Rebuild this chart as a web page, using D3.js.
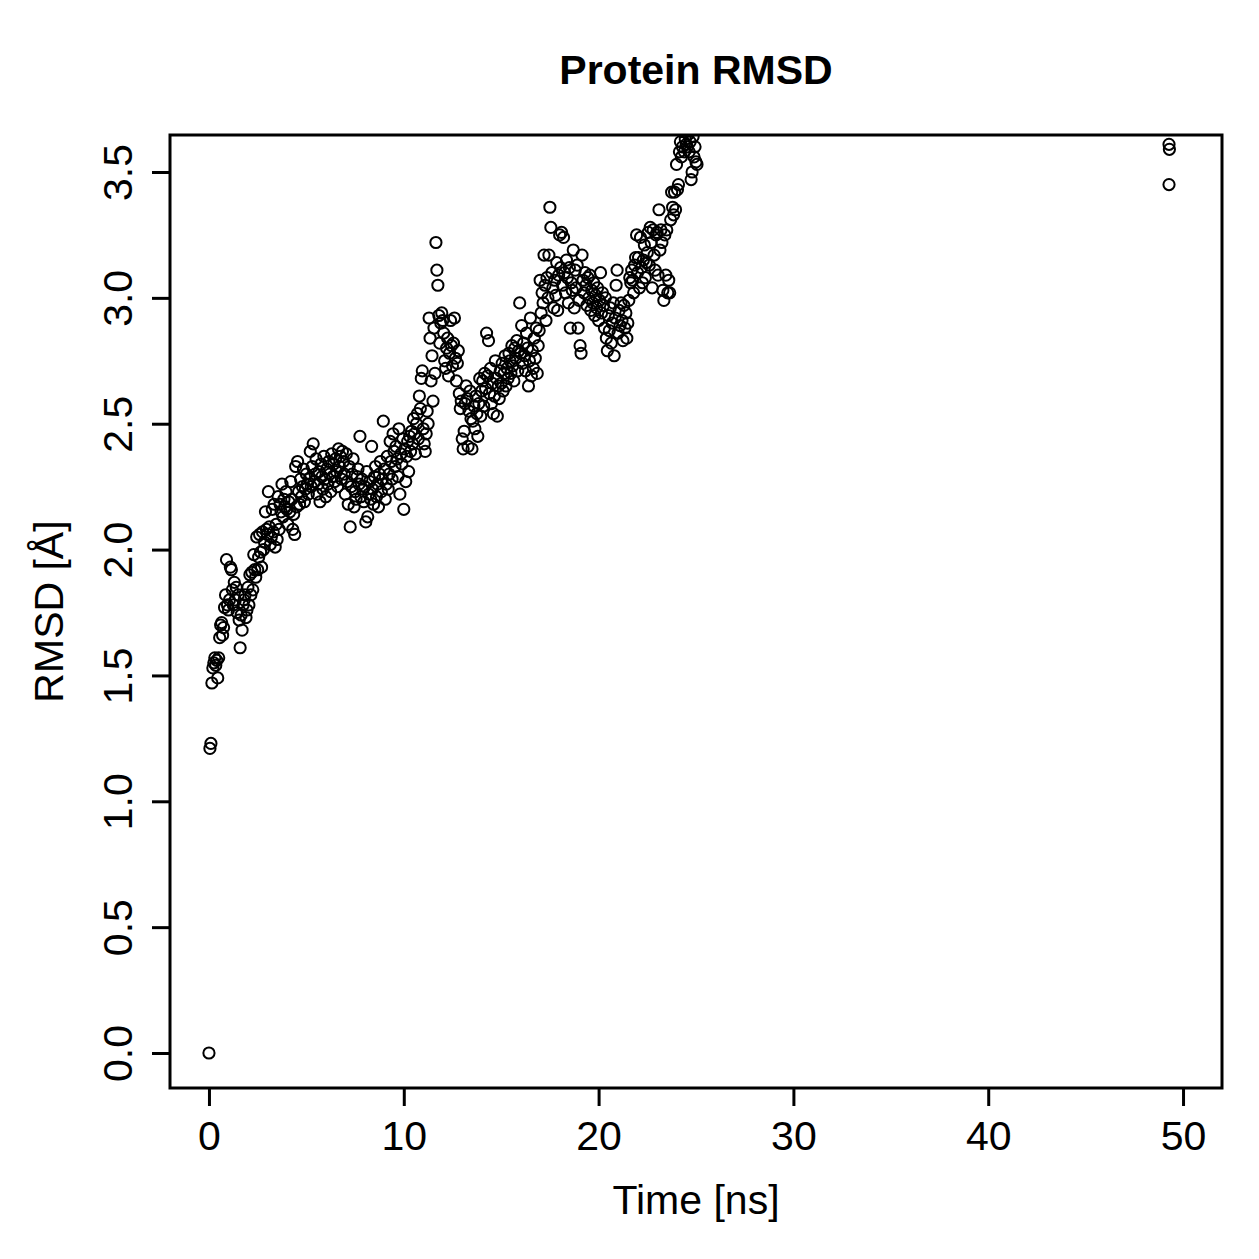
<!DOCTYPE html>
<html>
<head>
<meta charset="utf-8">
<script src="https://cdn.jsdelivr.net/npm/d3@7"></script>
<style>
  body { margin: 0; background: #fff; }
  text { font-family: "Liberation Sans", Arial, sans-serif; fill: #000; }
</style>
</head>
<body>
<script>
// RMSD trajectory, one frame every 0.05 ns starting at t = 0
var frameStart = 0
var frameStep = 0.05
var rmsd = [
  0.00, 1.21, 1.23, 1.47, 1.53, 1.55, 1.57, 1.54, 1.56, 1.49, 1.57, 1.65, 1.70, 1.71, 1.66, 1.69, 1.77, 1.82, 1.96, 1.78,
  1.76, 1.80, 1.93, 1.92, 1.84, 1.78, 1.87, 1.80, 1.85, 1.75, 1.82, 1.72, 1.61, 1.74, 1.68, 1.78, 1.80, 1.82, 1.73, 1.76,
  1.85, 1.78, 1.90, 1.82, 1.91, 1.84, 1.98, 1.92, 1.89, 2.05, 1.92, 1.97, 2.06, 1.99, 1.93, 2.07, 2.00, 2.03, 2.15, 2.08,
  2.06, 2.23, 2.09, 2.02, 2.05, 2.16, 2.07, 2.18, 2.01, 2.10, 2.04, 2.21, 2.08, 2.18, 2.15, 2.26, 2.13, 2.20, 2.17, 2.23,
  2.16, 2.10, 2.19, 2.15, 2.27, 2.20, 2.08, 2.14, 2.06, 2.33, 2.17, 2.35, 2.23, 2.18, 2.28, 2.21, 2.25, 2.32, 2.19, 2.24,
  2.30, 2.26, 2.22, 2.28, 2.39, 2.25, 2.33, 2.42, 2.27, 2.30, 2.36, 2.22, 2.26, 2.31, 2.19, 2.34, 2.29, 2.24, 2.37, 2.28,
  2.21, 2.32, 2.26, 2.35, 2.30, 2.23, 2.38, 2.29, 2.34, 2.27, 2.36, 2.31, 2.25, 2.40, 2.33, 2.37, 2.28, 2.39, 2.35, 2.30,
  2.22, 2.38, 2.27, 2.18, 2.33, 2.09, 2.25, 2.30, 2.36, 2.17, 2.23, 2.20, 2.29, 2.32, 2.26, 2.45, 2.21, 2.28, 2.24, 2.19,
  2.25, 2.11, 2.31, 2.13, 2.22, 2.27, 2.20, 2.41, 2.24, 2.18, 2.29, 2.33, 2.21, 2.26, 2.17, 2.30, 2.35, 2.23, 2.28, 2.51,
  2.32, 2.20, 2.26, 2.37, 2.24, 2.30, 2.43, 2.35, 2.28, 2.46, 2.39, 2.33, 2.41, 2.36, 2.29, 2.48, 2.22, 2.38, 2.34, 2.44,
  2.16, 2.40, 2.27, 2.37, 2.43, 2.31, 2.45, 2.39, 2.47, 2.42, 2.52, 2.46, 2.38, 2.50, 2.54, 2.44, 2.61, 2.56, 2.68, 2.71,
  2.48, 2.42, 2.39, 2.46, 2.55, 2.50, 2.92, 2.84, 2.67, 2.77, 2.59, 2.88, 2.70, 3.22, 3.11, 3.05, 2.93, 2.82, 2.90, 2.94,
  2.91, 2.86, 2.75, 2.72, 2.80, 2.84, 2.69, 2.78, 2.91, 2.81, 2.73, 2.82, 2.92, 2.76, 2.67, 2.74, 2.79, 2.62, 2.56, 2.59,
  2.44, 2.40, 2.47, 2.58, 2.65, 2.60, 2.41, 2.55, 2.63, 2.52, 2.40, 2.51, 2.57, 2.48, 2.61, 2.54, 2.45, 2.58, 2.68, 2.53,
  2.63, 2.67, 2.57, 2.70, 2.64, 2.86, 2.69, 2.83, 2.62, 2.72, 2.58, 2.66, 2.54, 2.61, 2.75, 2.68, 2.53, 2.65, 2.60, 2.71,
  2.66, 2.74, 2.63, 2.70, 2.77, 2.65, 2.72, 2.68, 2.78, 2.75, 2.70, 2.81, 2.73, 2.67, 2.80, 2.76, 2.83, 2.71, 2.79, 2.98,
  2.78, 2.89, 2.74, 2.82, 2.77, 2.71, 2.86, 2.80, 2.65, 2.75, 2.92, 2.69, 2.79, 2.72, 2.84, 2.76, 2.88, 2.70, 2.81, 2.87,
  3.07, 2.94, 3.02, 2.98, 3.17, 3.05, 2.91, 3.08, 3.00, 3.17, 3.36, 3.28, 3.10, 3.04, 2.96, 3.07, 3.01, 3.14, 2.95, 3.09,
  3.25, 3.12, 3.26, 3.05, 3.24, 3.10, 3.02, 3.15, 3.08, 2.98, 3.12, 2.88, 3.06, 3.03, 3.19, 2.96, 3.11, 3.04, 3.13, 2.88,
  2.99, 2.81, 2.78, 3.17, 3.07, 3.02, 3.10, 3.05, 2.97, 3.08, 3.00, 3.09, 2.95, 3.03, 2.98, 3.06, 2.93, 3.01, 2.96, 3.04,
  2.91, 2.99, 3.10, 2.94, 3.02, 2.97, 2.88, 3.00, 2.84, 2.79, 2.93, 2.87, 2.96, 2.82, 2.90, 2.98, 2.77, 2.92, 3.05, 3.11,
  2.86, 2.95, 2.89, 2.98, 2.91, 2.83, 2.97, 2.88, 2.94, 2.84, 2.90, 2.99, 3.08, 3.06, 3.11, 3.07, 3.02, 3.13, 3.16, 3.25,
  3.10, 3.16, 3.04, 3.24, 3.12, 3.06, 3.15, 3.21, 3.08, 3.14, 3.18, 3.26, 3.13, 3.28, 3.22, 3.04, 3.27, 3.17, 3.11, 3.25,
  3.26, 3.09, 3.35, 3.19, 3.27, 3.22, 3.03, 2.99, 3.25, 3.09, 3.27, 3.02, 3.07, 3.02, 3.31, 3.42, 3.36, 3.33, 3.42, 3.35,
  3.53, 3.43, 3.45, 3.58, 3.62, 3.56, 3.60, 3.66, 3.58, 3.63, 3.61, 3.60, 3.65, 3.58, 3.62, 3.47, 3.50, 3.64, 3.56, 3.60,
  3.54, 3.53
]
// the few frames written at the end of the run
var lateTimes = [49.28, 49.30, 49.28]
var lateRmsd = [3.61, 3.59, 3.45]

var xTicks = [0, 10, 20, 30, 40, 50]
var yTicks = [0.0, 0.5, 1.0, 1.5, 2.0, 2.5, 3.0, 3.5]

var W = 1259,
  H = 1259,
  box = { left: 170, right: 1222, top: 135, bottom: 1088 },
  fontSize = 41

var points = rmsd.map(function(v, i) {
  return { t: frameStart + i * frameStep, v: v }
})
lateRmsd.forEach(function(v, i) {
  points.push({ t: lateTimes[i], v: v })
})

var x = d3.scaleLinear().domain([-2, 52]).range([box.left, box.right])
var y = d3.scaleLinear().domain([-0.139, 3.647]).range([box.bottom, box.top])

var svg = d3
  .select('body')
  .append('svg')
  .attr('width', W)
  .attr('height', H)

svg
  .append('defs')
  .append('clipPath')
  .attr('id', 'plotClip')
  .append('rect')
  .attr('x', box.left)
  .attr('y', box.top)
  .attr('width', box.right - box.left)
  .attr('height', box.bottom - box.top)

// points
svg
  .append('g')
  .attr('clip-path', 'url(#plotClip)')
  .selectAll('circle')
  .data(points)
  .enter()
  .append('circle')
  .attr('cx', function(d) {
    return x(d.t)
  })
  .attr('cy', function(d) {
    return y(d.v)
  })
  .attr('r', 5.6)
  .attr('fill', 'none')
  .attr('stroke', '#000')
  .attr('stroke-width', 2)

// axes, R style: ticks outward, no domain line (box draws it)
var xAxis = d3
  .axisBottom(x)
  .tickValues(xTicks)
  .tickSize(18)
  .tickFormat(d3.format('d'))
var gx = svg
  .append('g')
  .attr('transform', 'translate(0,' + box.bottom + ')')
  .call(xAxis)
gx.select('.domain').remove()
gx.selectAll('.tick line').attr('stroke-width', 3)
gx.selectAll('.tick text')
  .attr('font-size', fontSize)
  .attr('font-family', null)
  .attr('dy', null)
  .attr('y', 62)

var yAxis = d3
  .axisLeft(y)
  .tickValues(yTicks)
  .tickSize(18)
  .tickFormat(d3.format('.1f'))
var gy = svg
  .append('g')
  .attr('transform', 'translate(' + box.left + ',0)')
  .call(yAxis)
gy.select('.domain').remove()
gy.selectAll('.tick line').attr('stroke-width', 3)
gy.selectAll('.tick text')
  .attr('font-size', fontSize)
  .attr('font-family', null)
  .attr('x', null)
  .attr('dy', null)
  .attr('text-anchor', 'middle')
  .attr('transform', 'translate(-38,0) rotate(-90)')

// box
svg
  .append('rect')
  .attr('x', box.left)
  .attr('y', box.top)
  .attr('width', box.right - box.left)
  .attr('height', box.bottom - box.top)
  .attr('fill', 'none')
  .attr('stroke', '#000')
  .attr('stroke-width', 3)

var cx = (box.left + box.right) / 2,
  cy = (box.top + box.bottom) / 2

svg
  .append('text')
  .attr('x', cx)
  .attr('y', 84)
  .attr('text-anchor', 'middle')
  .attr('font-size', fontSize)
  .attr('font-weight', 'bold')
  .text('Protein RMSD')

svg
  .append('text')
  .attr('x', cx)
  .attr('y', 1214)
  .attr('text-anchor', 'middle')
  .attr('font-size', fontSize)
  .text('Time [ns]')

svg
  .append('text')
  .attr('transform', 'translate(63,' + cy + ') rotate(-90)')
  .attr('text-anchor', 'middle')
  .attr('font-size', fontSize)
  .text('RMSD [Å]')
</script>
</body>
</html>
